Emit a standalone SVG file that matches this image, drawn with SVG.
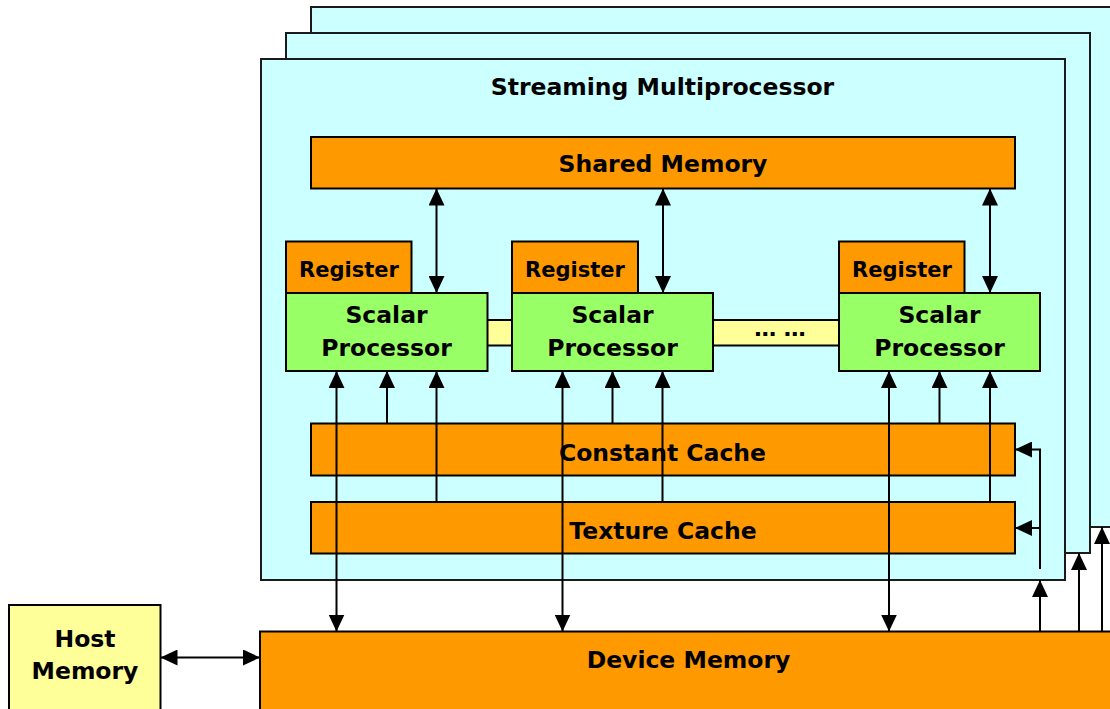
<svg xmlns="http://www.w3.org/2000/svg" width="1110" height="709" viewBox="0 0 1110 709">
<defs>
<style>
.panel{fill:#CCFFFF;stroke:#1a1a1a;stroke-width:2}
.orange{fill:#FF9900;stroke:#000;stroke-width:2}
.green{fill:#99FF66;stroke:#000;stroke-width:2}
.yellow{fill:#FFFF99;stroke:#000;stroke-width:2}
.t{font-family:"DejaVu Sans","Verdana",sans-serif;font-weight:bold;fill:#000;text-anchor:middle;font-size:23.5px}
.reg{font-size:22px}
.c{fill:none;stroke:#000;stroke-width:2}
</style>
<marker id="ah" markerUnits="userSpaceOnUse" markerWidth="17" markerHeight="16" refX="17" refY="8" orient="auto-start-reverse" viewBox="0 0 17 16">
<path d="M0,0 L17,8 L0,16 z" fill="#000"/>
</marker>
</defs>
<rect width="1110" height="709" fill="#fff"/>

<g id="sm-back-2"><rect class="panel" x="311" y="7" width="820" height="520"/></g>
<g id="sm-back-1"><rect class="panel" x="286" y="33" width="804" height="520"/></g>
<g id="sm-front">
<rect class="panel" x="261" y="59" width="804" height="521"/>
<text class="t" x="662.5" y="95">Streaming Multiprocessor</text>
</g>

<g id="shared-memory">
<rect class="orange" x="311" y="137" width="704" height="51.5"/>
<text class="t" x="663" y="171.5">Shared Memory</text>
</g>

<g id="links">
<rect class="yellow" x="487" y="320" width="25" height="25.5"/>
<rect class="yellow" x="713" y="320" width="126" height="25.5"/>
<text class="t" x="780" y="336" style="font-size:22px">… …</text>
</g>

<g id="register-1">
<rect class="orange" x="286" y="241.5" width="125.5" height="51.5"/>
<text class="t reg" x="349" y="276.5" textLength="100" lengthAdjust="spacingAndGlyphs">Register</text>
</g>
<g id="sp-1">
<rect class="green" x="286" y="293" width="201.5" height="78"/>
<text class="t" x="386.5" y="322.5">Scalar</text>
<text class="t" x="386.5" y="355.5">Processor</text>
</g>

<g id="register-2">
<rect class="orange" x="512" y="241.5" width="126" height="51.5"/>
<text class="t reg" x="575" y="276.5" textLength="100" lengthAdjust="spacingAndGlyphs">Register</text>
</g>
<g id="sp-2">
<rect class="green" x="512" y="293" width="201" height="78"/>
<text class="t" x="612.5" y="322.5">Scalar</text>
<text class="t" x="612.5" y="355.5">Processor</text>
</g>

<g id="register-3">
<rect class="orange" x="839" y="241.5" width="125.5" height="51.5"/>
<text class="t reg" x="902" y="276.5" textLength="100" lengthAdjust="spacingAndGlyphs">Register</text>
</g>
<g id="sp-3">
<rect class="green" x="839" y="293" width="201" height="78"/>
<text class="t" x="939.5" y="322.5">Scalar</text>
<text class="t" x="939.5" y="355.5">Processor</text>
</g>

<g id="constant-cache">
<rect class="orange" x="311" y="423.5" width="704" height="52"/>
<text class="t" x="662.5" y="460.5">Constant Cache</text>
</g>
<g id="texture-cache">
<rect class="orange" x="311" y="502" width="704" height="51.5"/>
<text class="t" x="663" y="538.5">Texture Cache</text>
</g>

<g id="host-memory">
<rect class="yellow" x="9" y="605" width="151.5" height="120"/>
<text class="t" x="85" y="647">Host</text>
<text class="t" x="85" y="679">Memory</text>
</g>

<g id="device-memory">
<rect class="orange" x="260" y="631.5" width="870" height="100"/>
<text class="t" x="688.5" y="668">Device Memory</text>
</g>

<g id="connectors">
<line class="c" x1="436.5" y1="188.5" x2="436.5" y2="293" marker-start="url(#ah)" marker-end="url(#ah)"/>
<line class="c" x1="663" y1="188.5" x2="663" y2="293" marker-start="url(#ah)" marker-end="url(#ah)"/>
<line class="c" x1="990" y1="188.5" x2="990" y2="293" marker-start="url(#ah)" marker-end="url(#ah)"/>

<line class="c" x1="336.5" y1="631.5" x2="336.5" y2="371" marker-start="url(#ah)" marker-end="url(#ah)"/>
<line class="c" x1="387" y1="423.5" x2="387" y2="371" marker-end="url(#ah)"/>
<line class="c" x1="436.5" y1="502" x2="436.5" y2="371" marker-end="url(#ah)"/>

<line class="c" x1="562.5" y1="631.5" x2="562.5" y2="371" marker-start="url(#ah)" marker-end="url(#ah)"/>
<line class="c" x1="612.5" y1="423.5" x2="612.5" y2="371" marker-end="url(#ah)"/>
<line class="c" x1="662.5" y1="502" x2="662.5" y2="371" marker-end="url(#ah)"/>

<line class="c" x1="889" y1="631.5" x2="889" y2="371" marker-start="url(#ah)" marker-end="url(#ah)"/>
<line class="c" x1="939.5" y1="423.5" x2="939.5" y2="371" marker-end="url(#ah)"/>
<line class="c" x1="990" y1="502" x2="990" y2="371" marker-end="url(#ah)"/>

<line class="c" x1="160.5" y1="657.5" x2="260" y2="657.5" marker-start="url(#ah)" marker-end="url(#ah)"/>

<polyline class="c" points="1040,569 1040,449.5 1015,449.5" marker-end="url(#ah)"/>
<line class="c" x1="1040" y1="528" x2="1015" y2="528" marker-end="url(#ah)"/>

<line class="c" x1="1040" y1="631.5" x2="1040" y2="580" marker-end="url(#ah)"/>
<line class="c" x1="1079" y1="631.5" x2="1079" y2="553" marker-end="url(#ah)"/>
<line class="c" x1="1102" y1="631.5" x2="1102" y2="527" marker-end="url(#ah)"/>
</g>
</svg>
